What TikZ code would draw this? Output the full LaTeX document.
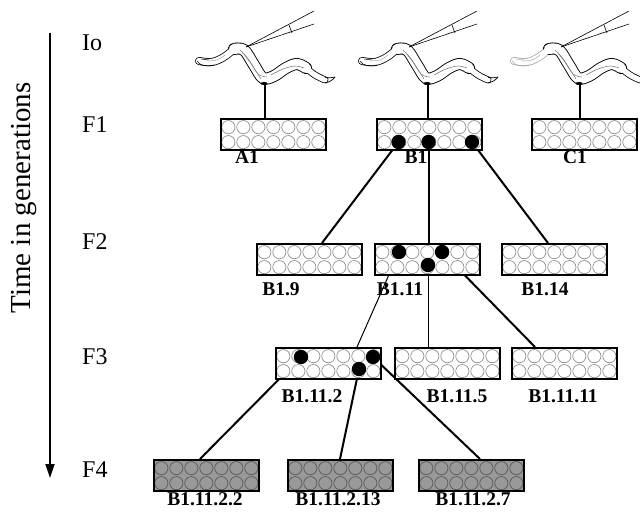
\documentclass[tikz,border=0pt]{standalone}
\usepackage{fontspec}
\setmainfont{Liberation Serif}
\usetikzlibrary{calc,arrows.meta}

% worm body; #1 = colour of the head outline
\newcommand\wormsketch[1]{%
  % outlines
  \draw[#1, line width=8pt, line cap=round] plot[smooth, tension=0.6] coordinates {(-66,-24) (-53,-23) (-41,-28) (-31,-36)};
  \draw[line width=12pt, line cap=round] plot[smooth, tension=0.6] coordinates {(-31,-36) (-21,-35) (-11,-20) (-2,-7) (9,-9) (21,-17) (32,-21) (41,-17)};
  \draw[line width=7pt, line cap=round] plot[smooth, tension=0.6] coordinates {(41,-17) (50,-10) (60,-5)};
  % interiors
  \draw[white, line width=6.4pt, line cap=round] plot[smooth, tension=0.6] coordinates {(-66,-24) (-53,-23) (-41,-28) (-31,-36)};
  \draw[white, line width=10.2pt, line cap=round] plot[smooth, tension=0.6] coordinates {(-31,-36) (-21,-35) (-11,-20) (-2,-7) (9,-9) (21,-17) (32,-21) (41,-17)};
  \draw[white, line width=5.4pt, line cap=round] plot[smooth, tension=0.6] coordinates {(41,-17) (50,-10) (60,-5)};
  % tail tip and head lips
  \draw[line width=0.7pt] (60,-2.3) .. controls (64,-2.5) and (67,-4.5) .. (70,-8);
  \draw[line width=0.7pt] (60,-7.7) .. controls (64,-7) and (67,-7) .. (70,-8);
  \draw[#1, line width=0.6pt] (-68,-24) .. controls (-65,-19) and (-58,-18) .. (-51,-20);
  \draw[#1, line width=0.5pt] (-64,-26) -- (-56,-25);
  % gut lines
  \draw[gray, line width=0.6pt] plot[smooth, tension=0.6] coordinates {(-25,-35) (-16,-25) (-7,-11) (2,-8)};
  \draw[gray, line width=0.6pt] plot[smooth, tension=0.6] coordinates {(-21,-31) (-13,-20) (-4,-6)};
  \draw[gray, line width=0.6pt] plot[smooth, tension=0.6] coordinates {(6,-10) (18,-16) (30,-19) (39,-17)};
  \draw[gray!70, line width=0.5pt] plot[smooth, tension=0.6] coordinates {(-58,-24) (-48,-25) (-40,-30)};
  % vulva spot
  \fill (-1,-1.5) ellipse[x radius=3.5pt, y radius=1.5pt];
  % microinjection needle
  \draw[line width=0.6pt] (-19,-38) -- (49,-74);
  \draw[line width=0.6pt] (-19,-38) -- (49,-61);
  \draw[line width=0.6pt] (24,-60) -- (27,-52);
}

\begin{document}
\begin{tikzpicture}[x=1pt, y=-1pt,
  well/.style={draw=gray!90, line width=0.65pt},
  plate/.style={draw, line width=1.7pt, fill=white, minimum width=105pt,
    minimum height=31pt, inner sep=0pt, anchor=north west,
    path picture={%
      \foreach \i in {0,...,6}{\foreach \j in {0,1}{%
        \draw[well] ($(path picture bounding box.north west)+(7.5+15*\i,8.3+15*\j)$) circle[radius=6.6pt];}}}},
  greyplate/.style={plate, fill=black!40, well/.style={draw=black!65, line width=0.7pt}},
  lbl/.style={font=\bfseries\fontsize{19.5}{21}\selectfont, anchor=base, inner sep=0pt},
  gen/.style={font=\fontsize{24}{26}\selectfont, anchor=west, inner sep=0pt},
  conn/.style={line width=2pt},
  thinconn/.style={line width=1pt},
  hit/.style={fill=black},
  worm/.pic={\wormsketch{black}},
  fadedworm/.pic={\wormsketch{black!35}}
]
\useasboundingbox (0,0) rectangle (640,513);

% time axis
\coordinate (tA) at (50,33);
\coordinate (tB) at (50,478);
\draw[line width=1.8pt, -{Triangle[length=14pt, width=9pt]}] (tA) -- (tB);
\node[font=\fontsize{29}{31}\selectfont, rotate=90, anchor=base, inner sep=0pt] (axis) at (30,198) {Time in generations};

% generation labels
\node[gen] (g0) at (82,43) {Io};
\node[gen] (g1) at (82,125) {F1};
\node[gen] (g2) at (82,242) {F2};
\node[gen] (g3) at (82,357) {F3};
\node[gen] (g4) at (82,470) {F4};

% injected worms
\coordinate (wA) at (265,85);
\coordinate (wB) at (428,85);
\coordinate (wC) at (580,85);
\pic at (wA) {worm};
\pic at (wB) {worm};
\pic at (wC) {fadedworm};

% plate positions
\coordinate (pA1) at (220,118);
\coordinate (pB1) at (376,118);
\coordinate (pC1) at (531,118);
\coordinate (pB19) at (256,243);
\coordinate (pB111) at (374,243);
\coordinate (pB114) at (501,243);
\coordinate (pB1112) at (275,347);
\coordinate (pB1115) at (394,347);
\coordinate (pB11111) at (511,347);
\coordinate (pF4a) at (153,459);
\coordinate (pF4b) at (287,459);
\coordinate (pF4c) at (418,459);

% positive wells
\coordinate (B1d2) at ($(pB1)+(22.5,24)$);
\coordinate (B1d4) at ($(pB1)+(52.5,24)$);
\coordinate (B1d7) at ($(pB1)+(96,24)$);
\coordinate (B111t2) at ($(pB111)+(25,9)$);
\coordinate (B111t5) at ($(pB111)+(68,9)$);
\coordinate (B111b4) at ($(pB111)+(54,22)$);
\coordinate (B1112t2) at ($(pB1112)+(26,10)$);
\coordinate (B1112t7) at ($(pB1112)+(98,10)$);
\coordinate (B1112b6) at ($(pB1112)+(84,22)$);

% connectors
\draw[conn] (wA) -- (wA |- pA1);
\draw[conn] (wB) -- (wB |- pB1);
\draw[conn] (wC) -- (wC |- pC1);
\draw[conn] (B1d2) -- ($(pB19)+(66,0)$);
\draw[conn] (B1d4) -- (B1d4 |- pB111);
\draw[conn] (B1d7) -- ($(pB114)+(47,0)$);
\draw[thinconn] (B111t2) -- ($(pB1112)+(82,0)$);
\draw[thinconn] (B111b4) -- (B111b4 |- pB1115);
\draw[conn] (B111t5) -- ($(pB11111)+(24,0)$);
\draw[conn] (B1112t2) -- ($(pF4a)+(47,0)$);
\draw[conn] (B1112b6) -- ($(pF4b)+(53,0)$);
\draw[conn] (B1112t7) -- ($(pF4c)+(62,0)$);

% plates
\node[plate] (A1) at (pA1) {};
\node[plate] (B1) at (pB1) {};
\node[plate] (C1) at (pC1) {};
\node[plate] (B19) at (pB19) {};
\node[plate] (B111) at (pB111) {};
\node[plate] (B114) at (pB114) {};
\node[plate] (B1112) at (pB1112) {};
\node[plate] (B1115) at (pB1115) {};
\node[plate] (B11111) at (pB11111) {};
\node[greyplate] (F4a) at (pF4a) {};
\node[greyplate] (F4b) at (pF4b) {};
\node[greyplate] (F4c) at (pF4c) {};

% positive wells on top
\foreach \d in {B1d2,B1d4,B1d7,B111t2,B111t5,B111b4,B1112t2,B1112t7,B1112b6}
  \fill[hit] (\d) circle[radius=7.2pt];

% plate labels
\node[lbl] (lA1) at (247,164) {A1};
\node[lbl] (lB1) at (416,164) {B1};
\node[lbl] (lC1) at (575,164) {C1};
\node[lbl] (lB19) at (281,295) {B1.9};
\node[lbl] (lB111) at (400,295) {B1.11};
\node[lbl] (lB114) at (545,295) {B1.14};
\node[lbl] (lB1112) at (312,402) {B1.11.2};
\node[lbl] (lB1115) at (457,402) {B1.11.5};
\node[lbl] (lB11111) at (563,402) {B1.11.11};
\node[lbl] (lF4a) at (205,505) {B1.11.2.2};
\node[lbl] (lF4b) at (338,505) {B1.11.2.13};
\node[lbl] (lF4c) at (473,505) {B1.11.2.7};
\end{tikzpicture}
\end{document}
